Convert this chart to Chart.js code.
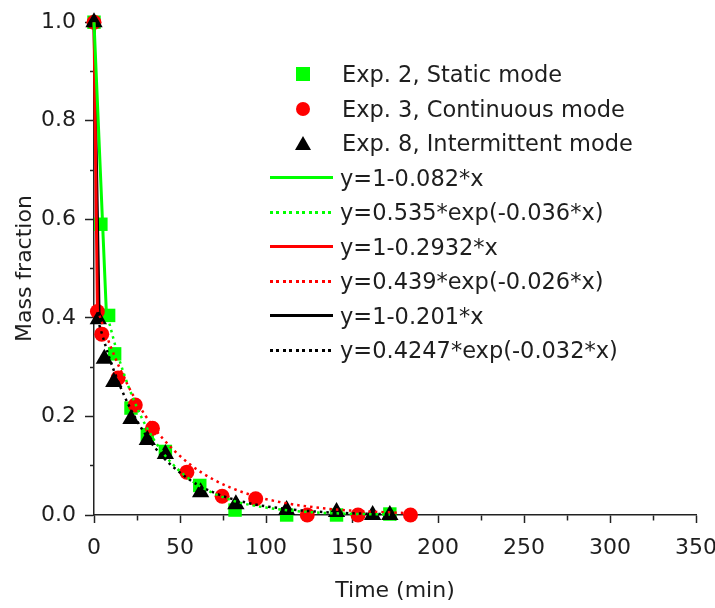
<!DOCTYPE html>
<html>
<head>
<meta charset="utf-8">
<script src="https://cdn.jsdelivr.net/npm/chart.js@4.4.1/dist/chart.umd.min.js"></script>
<style>
  html, body { margin: 0; padding: 0; background: #fff; }
  #wrap { position: relative; width: 715px; height: 608px; }
  #legend { position: absolute; left: 0; top: 0; font-family: "DejaVu Sans", sans-serif; font-size: 22.5px; color: #1e1e1e; }
  .row { position: absolute; height: 34px; display: flex; align-items: center; white-space: nowrap; }
  .mark { width: 40px; display: flex; justify-content: center; align-items: center; }
  .sample { width: 63px; margin-right: 7px; }
</style>
</head>
<body>
<div id="wrap">
  <canvas id="chart" width="715" height="608"></canvas>
  <div id="legend"></div>
</div>
<script>
// measured points (time in min, mass fraction)
const staticTime = [0, 4, 8.5, 12, 21.5, 31, 41.5, 61.5, 82, 112, 141, 172];
const staticMass = [1.0, 0.59, 0.405, 0.327, 0.217, 0.163, 0.129, 0.06, 0.01, 0, 0, 0.002];
const contTime = [0, 2, 4.5, 14, 24, 34, 54, 74.5, 94, 124, 153.5, 184];
const contMass = [1.0, 0.413, 0.367, 0.278, 0.223, 0.176, 0.087, 0.038, 0.033, 0, 0, 0];
const interTime = [0, 2.5, 6, 11.5, 21.5, 31, 41.5, 62, 82.5, 112, 141, 162, 172];
const interMass = [1.0, 0.397, 0.317, 0.27, 0.195, 0.152, 0.124, 0.046, 0.022, 0.01, 0.006, 0, 0];

// linear fits of the first stage
const staticLinTime = [0, 7.2];
const staticLinMass = [1.0, 0.41];
const contLinTime = [0, 2];
const contLinMass = [1.0, 0.413];
const interLinTime = [0, 3];
const interLinMass = [1.0, 0.397];

// exponential fits
const staticExpTime = [8, 15, 25, 35, 45, 60, 80, 100, 125, 150, 172];
const staticExpMass = [0.401, 0.312, 0.218, 0.152, 0.106, 0.062, 0.030, 0.015, 0.006, 0.0024, 0.0011];
const contExpTime = [2, 10, 20, 30, 40, 55, 70, 90, 110, 135, 160, 184];
const contExpMass = [0.417, 0.339, 0.261, 0.201, 0.155, 0.105, 0.071, 0.042, 0.025, 0.013, 0.007, 0.0037];
const interExpTime = [2, 10, 20, 30, 40, 55, 70, 90, 110, 135, 160, 172];
const interExpMass = [0.398, 0.308, 0.224, 0.163, 0.118, 0.073, 0.045, 0.024, 0.013, 0.0056, 0.0025, 0.0017];

const seriesLabels = ['Exp. 2, Static mode', 'Exp. 3, Continuous mode', 'Exp. 8, Intermittent mode'];
const fitLabels = ['y=1-0.082*x', 'y=0.535*exp(-0.036*x)', 'y=1-0.2932*x', 'y=0.439*exp(-0.026*x)', 'y=1-0.201*x', 'y=0.4247*exp(-0.032*x)'];

const GREEN = '#00ff00', RED = '#ff0000', BLACK = '#000000';
const FONT = '"DejaVu Sans", sans-serif';

function pts(xs, ys) {
    return xs.map((x, i) => ({x: x, y: ys[i]}));
}

function markerSet(label, xs, ys, color, style, radius, order) {
    return {
        label: label, data: pts(xs, ys), showLine: false,
        pointStyle: style, pointRadius: radius, pointHoverRadius: radius,
        backgroundColor: color, borderColor: color, pointBorderWidth: 0,
        order: order, clip: false
    };
}

function lineSet(label, xs, ys, color, dotted, order) {
    return {
        label: label, data: pts(xs, ys), showLine: true, pointRadius: 0,
        borderColor: color, backgroundColor: color,
        borderWidth: dotted ? 2.5 : 3, borderDash: dotted ? [2.5, 4] : [],
        cubicInterpolationMode: 'monotone', order: order, clip: false,
        dotted: dotted
    };
}

const datasets = [
    markerSet(seriesLabels[0], staticTime, staticMass, GREEN, 'rect', 9.5, 5),
    markerSet(seriesLabels[1], contTime, contMass, RED, 'circle', 7.5, 4),
    markerSet(seriesLabels[2], interTime, interMass, BLACK, 'triangle', 10, 3),
    lineSet(fitLabels[0], staticLinTime, staticLinMass, GREEN, false, 2),
    lineSet(fitLabels[1], staticExpTime, staticExpMass, GREEN, true, 1),
    lineSet(fitLabels[2], contLinTime, contLinMass, RED, false, 2),
    lineSet(fitLabels[3], contExpTime, contExpMass, RED, true, 1),
    lineSet(fitLabels[4], interLinTime, interLinMass, BLACK, false, 2),
    lineSet(fitLabels[5], interExpTime, interExpMass, BLACK, true, 1)
];

const isMinorX = (ctx) => ctx.tick && ctx.tick.value % 50 !== 0;
const isMinorY = (ctx) => ctx.tick && Math.round(ctx.tick.value * 10) % 2 !== 0;

const chart = new Chart('chart', {
    type: 'scatter',
    data: { datasets: datasets },
    options: {
        responsive: false,
        animation: false,
        layout: { padding: { top: 19, right: 19, left: 0, bottom: 0 } },
        plugins: { legend: { display: false }, tooltip: { enabled: false } },
        scales: {
            x: {
                type: 'linear', min: 0, max: 350,
                afterFit: (s) => { s.height = 93; s.paddingLeft = 0; s.paddingRight = 0; },
                border: { display: true, color: '#222', width: 1.5 },
                grid: {
                    drawOnChartArea: false, drawTicks: true, tickLength: 8,
                    tickColor: '#222', tickWidth: 1.5,
                    tickBorderDash: (ctx) => isMinorX(ctx) ? [5, 20] : []
                },
                ticks: {
                    stepSize: 25, autoSkip: false, maxRotation: 0, padding: 12,
                    color: '#1e1e1e', font: { family: FONT, size: 22 },
                    callback: (v) => v % 50 === 0 ? String(v) : ''
                },
                title: {
                    display: true, text: 'Time (min)', color: '#1e1e1e',
                    font: { family: FONT, size: 22 }, padding: { top: 0, bottom: 4 }
                }
            },
            y: {
                type: 'linear', min: 0, max: 1.0,
                afterFit: (s) => { s.width = 94; },
                border: { display: true, color: '#222', width: 1.5 },
                grid: {
                    drawOnChartArea: false, drawTicks: true, tickLength: 9,
                    tickColor: '#222', tickWidth: 1.5,
                    tickBorderDash: (ctx) => isMinorY(ctx) ? [4, 5] : [],
                    tickBorderDashOffset: (ctx) => isMinorY(ctx) ? 4 : 0
                },
                ticks: {
                    stepSize: 0.1, autoSkip: false, padding: 9,
                    color: '#1e1e1e', font: { family: FONT, size: 22 },
                    callback: (v) => Math.round(v * 10) % 2 === 0 ? v.toFixed(1) : ''
                },
                title: {
                    display: true, text: 'Mass fraction', color: '#1e1e1e',
                    font: { family: FONT, size: 22 }, padding: { top: 12, bottom: 0 }
                }
            }
        }
    }
});

// legend inside the plot, built from the datasets
const legend = document.getElementById('legend');
const rowTop = 57, rowStep = 34.5;
chart.data.datasets.forEach((ds, i) => {
    const row = document.createElement('div');
    row.className = 'row';
    row.style.top = (rowTop + i * rowStep) + 'px';
    const sym = document.createElement('div');
    if (!ds.showLine) {
        row.style.left = '283px';
        sym.className = 'mark';
        const m = document.createElement('div');
        if (ds.pointStyle === 'triangle') {
            m.style.cssText = 'width:0;height:0;border-left:8px solid transparent;border-right:8px solid transparent;border-bottom:14px solid ' + ds.backgroundColor;
        } else {
            m.style.cssText = 'width:14px;height:14px;background:' + ds.backgroundColor +
                (ds.pointStyle === 'circle' ? ';border-radius:50%' : '');
        }
        sym.appendChild(m);
        sym.style.marginRight = '19px';
    } else {
        row.style.left = '270px';
        sym.className = 'sample';
        sym.style.height = '3px';
        sym.style.background = ds.dotted
            ? 'repeating-linear-gradient(90deg, ' + ds.borderColor + ' 0 3px, transparent 3px 6.5px)'
            : ds.borderColor;
    }
    row.appendChild(sym);
    const txt = document.createElement('span');
    txt.textContent = ds.label;
    row.appendChild(txt);
    legend.appendChild(row);
});
</script>
</body>
</html>
